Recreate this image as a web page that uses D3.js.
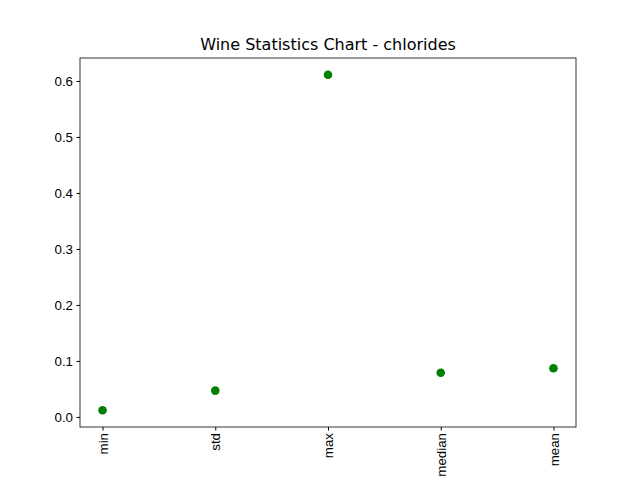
<!DOCTYPE html>
<html><head><meta charset="utf-8">
<script src="https://cdn.jsdelivr.net/npm/d3@7"></script>
<style>body{margin:0;background:#fff;overflow:hidden}</style>
</head><body><div id="chart"></div>
<script>
var categories = ["min", "std", "max", "median", "mean"];
var values = [0.012, 0.047, 0.611, 0.079, 0.087];
var yTicks = [0.0, 0.1, 0.2, 0.3, 0.4, 0.5, 0.6];

var margin = {top: 58, right: 64, bottom: 53, left: 80},
    width = 640 - margin.left - margin.right,
    height = 480 - margin.top - margin.bottom;

var svg = d3.select("#chart").append("svg")
    .attr("width", 640).attr("height", 480)
    .style("font-family", "DejaVu Sans").style("display", "block")
  .append("g")
    .attr("transform", "translate(" + margin.left + "," + margin.top + ")");

var x = d3.scaleLinear().domain([-0.2, categories.length - 0.8]).range([0, width]);
var y = d3.scaleLinear().domain([-0.018, 0.641]).range([height, 0]);

var xAxis = svg.append("g")
    .attr("transform", "translate(0," + height + ")")
    .call(d3.axisBottom(x).tickValues(d3.range(categories.length))
      .tickFormat(function(i) { return categories[i]; }).tickSize(3.5).tickPadding(3));
xAxis.selectAll("text")
    .attr("transform", "rotate(-90)")
    .attr("x", -6).attr("y", 0).attr("dy", "0.35em")
    .style("text-anchor", "end").style("font-size", "13.3px").attr("fill", "#000");

var yAxis = svg.append("g")
    .call(d3.axisLeft(y).tickValues(yTicks).tickFormat(d3.format(".1f")).tickSize(3.5).tickPadding(3.5));
yAxis.selectAll("text").style("font-size", "13.3px").attr("fill", "#000");

[xAxis, yAxis].forEach(function(a) {
  a.select(".domain").remove();
  a.selectAll("line").attr("stroke", "#000");
});

svg.append("rect").attr("width", width).attr("height", height)
    .attr("fill", "none").attr("stroke", "#000").attr("stroke-width", 0.8);

svg.selectAll("circle").data(values).enter().append("circle")
    .attr("cx", function(d, i) { return x(i); })
    .attr("cy", function(d) { return y(d); })
    .attr("r", 4.3).attr("fill", "green");

svg.append("text")
    .attr("x", width / 2).attr("y", -8)
    .attr("text-anchor", "middle").style("font-size", "16px")
    .text("Wine Statistics Chart - chlorides");
</script></body></html>
